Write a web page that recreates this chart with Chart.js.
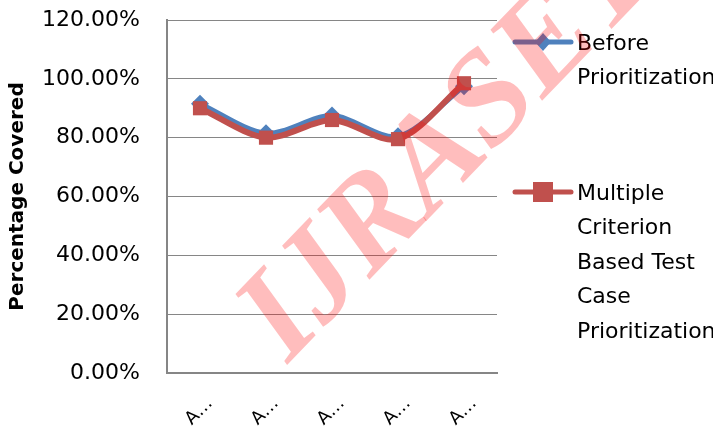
<!DOCTYPE html>
<html>
<head>
<meta charset="utf-8">
<script src="https://cdn.jsdelivr.net/npm/chart.js@4/dist/chart.umd.min.js"></script>
<style>
  html, body { margin: 0; padding: 0; background: #fff; }
  #wrap { width: 713px; height: 429px; position: relative; }
</style>
</head>
<body>
<div id="wrap"><canvas id="coverageChart"></canvas></div>
<script>
const categories = ['A…', 'A…', 'A…', 'A…', 'A…'];
const beforeValues = [91.5, 81.5, 87.5, 80.5, 97.5];
const multipleValues = [90, 80, 86, 79.5, 98.5];
const seriesNames = ['Before Prioritization', 'Multiple Criterion Based Test Case Prioritization'];
const yTicks = [0, 20, 40, 60, 80, 100, 120];
const yTitle = 'Percentage Covered';
const watermark = 'IJRASET';

const FONT = '"DejaVu Sans", sans-serif';
const blue = '#4F81BD';
const red = '#C0504D';

// wrap a label into lines no wider than maxW
function wrapText(ctx, text, maxW) {
    const words = text.split(' ');
    const lines = [];
    let cur = '';
    words.forEach(w => {
        const test = cur ? cur + ' ' + w : w;
        if (cur && ctx.measureText(test).width > maxW) {
            lines.push(cur);
            cur = w;
        } else {
            cur = test;
        }
    });
    if (cur) lines.push(cur);
    return lines;
}

const sideLegend = {
    id: 'sideLegend',
    afterDraw(chart) {
        const ctx = chart.ctx;
        const area = chart.chartArea;
        const x0 = area.right + 18;
        const startY = [42, 192];
        ctx.save();
        ctx.font = '22px ' + FONT;
        ctx.textBaseline = 'middle';
        chart.data.datasets.forEach((ds, i) => {
            const y = startY[i];
            ctx.strokeStyle = ds.borderColor;
            ctx.lineWidth = 5;
            ctx.lineCap = 'round';
            ctx.beginPath();
            ctx.moveTo(x0, y);
            ctx.lineTo(x0 + 56, y);
            ctx.stroke();
            ctx.fillStyle = ds.backgroundColor;
            const cx = x0 + 28;
            if (ds.pointStyle === 'rectRot') {
                ctx.beginPath();
                ctx.moveTo(cx, y - 9);
                ctx.lineTo(cx + 8, y);
                ctx.lineTo(cx, y + 9);
                ctx.lineTo(cx - 8, y);
                ctx.closePath();
                ctx.fill();
            } else {
                ctx.fillRect(cx - 10, y - 10, 20, 20);
            }
            ctx.fillStyle = '#000';
            const lines = wrapText(ctx, ds.label, 130);
            lines.forEach((ln, j) => {
                ctx.fillText(ln, x0 + 62, y + 2 + j * 34.5);
            });
        });
        ctx.restore();
    }
};

const watermarkPlugin = {
    id: 'watermarkPlugin',
    afterDraw(chart) {
        const ctx = chart.ctx;
        ctx.save();
        ctx.translate(288, 364);
        ctx.rotate(-46 * Math.PI / 180);
        ctx.font = 'italic bold 132px "Liberation Serif", serif';
        ctx.fillStyle = 'rgba(255, 0, 0, 0.26)';
        ctx.textBaseline = 'alphabetic';
        ctx.fillText(watermark, 0, 0);
        ctx.restore();
    }
};

const ctx = document.getElementById('coverageChart').getContext('2d');
new Chart(ctx, {
    type: 'line',
    data: {
        labels: categories,
        datasets: [
            {
                label: seriesNames[0],
                data: beforeValues,
                borderColor: blue,
                backgroundColor: blue,
                borderWidth: 5,
                pointStyle: 'rectRot',
                pointRadius: 9,
                pointBorderWidth: 0,
                tension: 0.3,
                order: 2
            },
            {
                label: seriesNames[1],
                data: multipleValues,
                borderColor: red,
                backgroundColor: red,
                borderWidth: 6,
                pointStyle: 'rect',
                pointRadius: 10,
                pointBorderWidth: 0,
                tension: 0.3,
                order: 1
            }
        ]
    },
    options: {
        responsive: true,
        maintainAspectRatio: false,
        animation: false,
        layout: { autoPadding: false, padding: { top: 20, right: 216, left: 0, bottom: 0 } },
        plugins: {
            legend: { display: false },
            tooltip: { enabled: false }
        },
        scales: {
            x: {
                offset: true,
                grid: { display: false },
                border: { display: true, color: '#868686', width: 2 },
                ticks: {
                    color: '#000',
                    font: { family: FONT, size: 18 },
                    maxRotation: 45,
                    minRotation: 45,
                    padding: 12,
                    labelOffset: 10
                },
                afterFit(scale) { scale.height = 56; }
            },
            y: {
                min: 0,
                max: 120,
                afterBuildTicks(scale) {
                    scale.ticks = yTicks.map(v => ({ value: v }));
                },
                grid: { color: '#868686', lineWidth: 1, drawTicks: false },
                border: { display: true, color: '#868686', width: 2 },
                ticks: {
                    color: '#000',
                    font: { family: FONT, size: 22 },
                    padding: 27,
                    callback: v => v.toFixed(2) + '%'
                },
                title: {
                    display: true,
                    text: yTitle,
                    color: '#000',
                    font: { family: FONT, size: 20, weight: 'bold' },
                    padding: { top: 6, bottom: 0 }
                },
                afterFit(scale) {
                    scale.width = 167;
                    // tick padding is horizontal only here
                    scale.paddingTop = 0;
                    scale.paddingBottom = 0;
                }
            }
        }
    },
    plugins: [sideLegend, watermarkPlugin]
});
</script>
</body>
</html>
